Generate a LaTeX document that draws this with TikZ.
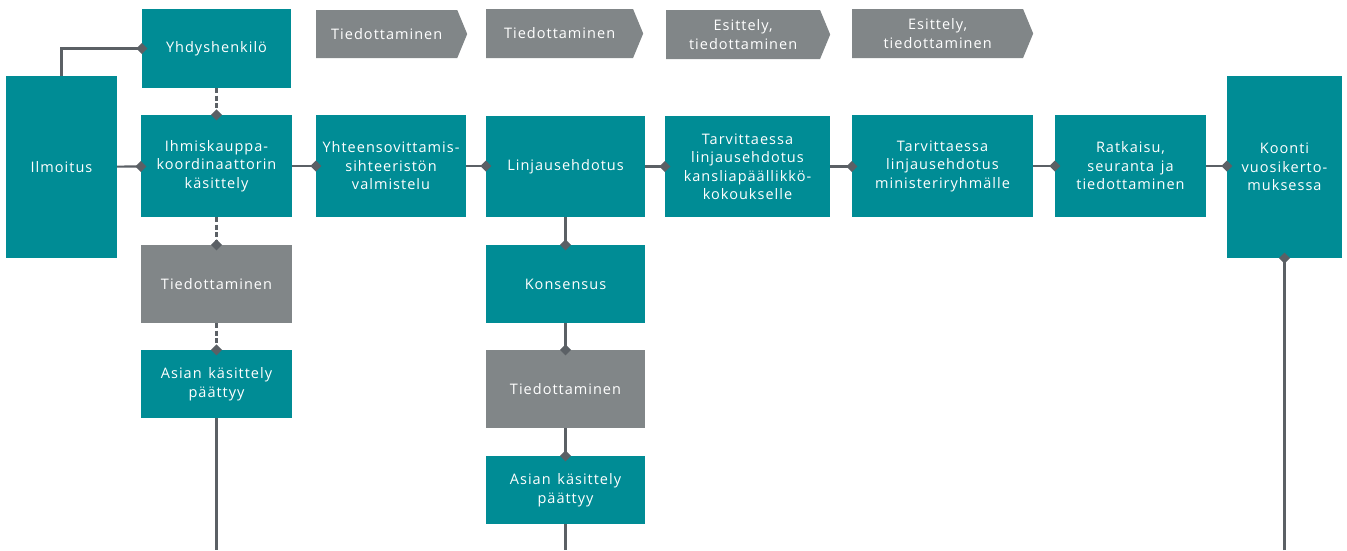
\documentclass[tikz,border=0pt]{standalone}
\usepackage{fontspec}
\usepackage{tikz}
\usetikzlibrary{arrows.meta,shapes.symbols}
\newfontfamily\boxfont[LetterSpace=7,WordSpace=1.4]{Open Sans}
\definecolor{teal}{HTML}{008C95}
\definecolor{stone}{HTML}{818688}
\definecolor{wire}{HTML}{5B6065}

\begin{document}
\begin{tikzpicture}[x=1pt, y=-1pt]

\tikzstyle{every node} = [rectangle, inner sep=0pt, text=white, align=center,
  font=\boxfont\fontsize{14.5}{18.5}\selectfont]
\tikzstyle{step box} = [fill=teal]
\tikzstyle{info box} = [fill=stone]
\tikzstyle{info arrow} = [signal, signal to=east, signal from=nowhere,
  signal pointer angle=135, fill=stone, anchor=west]
\tikzstyle{link} = [draw=wire, line width=2.2pt,
  -{Diamond[length=11pt,width=11pt]}, shorten >=-5.5pt]
\tikzstyle{maybe} = [link, dash pattern=on 5pt off 2.5pt]

\useasboundingbox (0,0) rectangle (1347,550);

\node[step box, minimum width=111, minimum height=182] (ilm) at (61.5,167) {Ilmoitus};
\node[step box, minimum width=149, minimum height=79] (yhd) at (216.5,48.5) {Yhdyshenkilö};
\node[step box, minimum width=151, minimum height=102] (ihm) at (216.5,166) {Ihmiskauppa-\\koordinaattorin\\käsittely};
\node[info box, minimum width=151, minimum height=78] (tie1) at (216.5,284) {Tiedottaminen};
\node[step box, minimum width=151, minimum height=68] (asi1) at (216.5,384) {Asian käsittely\\päättyy};

\node[step box, minimum width=150, minimum height=102] (yht) at (391,166) {Yhteensovittamis-\\sihteeristön\\valmistelu};
\node[step box, minimum width=159, minimum height=101] (lin) at (565.5,166.5) {Linjausehdotus};
\node[step box, minimum width=159, minimum height=78] (kon) at (565.5,284) {Konsensus};
\node[info box, minimum width=159, minimum height=78] (tie2) at (565.5,389) {Tiedottaminen};
\node[step box, minimum width=159, minimum height=68] (asi2) at (565.5,490) {Asian käsittely\\päättyy};

\node[step box, minimum width=165, minimum height=101] (kan) at (747.5,166.5) {Tarvittaessa\\linjausehdotus\\kansliapäällikkö-\\kokoukselle};
\node[step box, minimum width=181, minimum height=102] (min) at (942.5,166) {Tarvittaessa\\linjausehdotus\\ministeriryhmälle};
\node[step box, minimum width=151, minimum height=102] (rat) at (1130.5,166) {Ratkaisu,\\seuranta ja\\tiedottaminen};
\node[step box, minimum width=115, minimum height=182] (koo) at (1284.5,167) {Koonti\\vuosikerto-\\muksessa};

% phases on top
\node[info arrow, minimum width=151, minimum height=48] (ph1) at (316,34) {Tiedottaminen};
\node[info arrow, minimum width=157, minimum height=49] (ph2) at (486,33.5) {Tiedottaminen};
\node[info arrow, minimum width=164, minimum height=49] (ph3) at (666,34.5) {Esittely,\\tiedottaminen};
\node[info arrow, minimum width=181, minimum height=49] (ph4) at (852,33.5) {Esittely,\\tiedottaminen};

\coordinate (end1) at (216.5,550);
\coordinate (end2) at (565.5,550);
\coordinate (end3) at (1284.5,550);

\draw[link] (ilm.north) |- (yhd.west);
\draw[link] (ilm) -- (ihm);
\draw[maybe] (yhd) -- (ihm);
\draw[maybe] (ihm) -- (tie1);
\draw[maybe] (tie1) -- (asi1);
\draw[draw=wire, line width=2.2pt] (asi1) -- (end1);

\draw[link] (ihm) -- (yht);
\draw[link] (yht.east) -- (lin.west |- yht.east);
\draw[link] (lin) -- (kon);
\draw[link] (kon) -- (tie2);
\draw[link] (tie2) -- (asi2);
\draw[draw=wire, line width=2.2pt] (asi2) -- (end2);

\draw[link] (lin) -- (kan);
\draw[link] (kan.east) -- (min.west |- kan.east);
\draw[link] (min) -- (rat);
\draw[link] (rat) -- (koo.west |- rat.east);
\draw[link] (end3) -- (koo);
\end{tikzpicture}
\end{document}
